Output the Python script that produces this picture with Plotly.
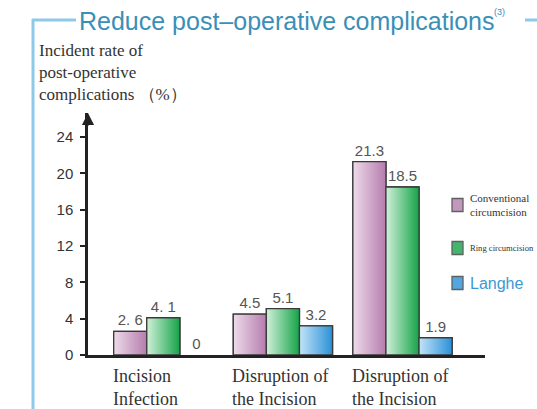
import plotly.graph_objects as go

# ---- data ----
categories = ["Incision<br>Infection", "Disruption of<br>the Incision", "Disruption of<br>the Incision"]
series_names = ["Conventional<br>circumcision", "Ring circumcision", "Langhe"]
conventional = [2.6, 4.5, 21.3]
ring = [4.1, 5.1, 18.5]
langhe = [0, 3.2, 1.9]
conventional_labels = ["2. 6", "4.5", "21.3"]
ring_labels = ["4. 1", "5.1", "18.5"]
langhe_labels = ["0", "3.2", "1.9"]
y_ticks = [0, 4, 8, 12, 16, 20, 24]

W, H = 537, 409
L, R, T, B = 88, 52, 113, 54
SERIF = "Liberation Serif"
SANS = "Liberation Sans"

gradients = [("#eedbea", "#b57cae"), ("#d2f0da", "#14a448"), ("#c2e4f8", "#2a90d8")]
solid = ["#d4a8ce", "#4dbd70", "#62b2e6"]
values = [conventional, ring, langhe]
labels = [conventional_labels, ring_labels, langhe_labels]
outline = "#3a3a3a"

bargap = 0.17
n_series = len(values)
bar_w = (1 - bargap) / n_series

xs = list(range(len(categories)))
fig = go.Figure()
# bars (carry the value labels)
for vals, labs, col in zip(values, labels, solid):
    fig.add_trace(go.Bar(
        x=xs, y=vals, text=labs, textposition="outside",
        textfont=dict(family=SANS, size=15, color="#555"),
        marker=dict(color=col, line=dict(color=outline, width=[0 if v == 0 else 1.3 for v in vals])),
        cliponaxis=False, showlegend=False, hoverinfo="skip",
    ))
# gradient skin over each bar, placed by the same grouping as the bars
for s, (vals, (c0, c1)) in enumerate(zip(values, gradients)):
    for i, v in enumerate(vals):
        if v == 0:
            continue
        left = i - (1 - bargap) / 2 + s * bar_w
        right = left + bar_w
        fig.add_trace(go.Scatter(
            x=[left, right, right, left, left], y=[0, 0, v, v, 0],
            mode="lines", fill="toself",
            fillgradient=dict(type="horizontal", colorscale=[[0, c0], [1, c1]]),
            line=dict(color=outline, width=1.3), showlegend=False, hoverinfo="skip",
        ))

def px_x(p):
    return (p - L) / (W - L - R)

def px_y(p):
    return (H - B - p) / (H - T - B)

line_col = "#8fc9ea"
shapes = [
    dict(type="line", xref="paper", yref="paper", x0=px_x(33), x1=px_x(33), y0=px_y(19), y1=px_y(409),
         line=dict(color=line_col, width=3)),
    dict(type="line", xref="paper", yref="paper", x0=px_x(32), x1=px_x(76), y0=px_y(20), y1=px_y(20),
         line=dict(color=line_col, width=3)),
    dict(type="line", xref="paper", yref="paper", x0=px_x(525), x1=px_x(540), y0=px_y(20), y1=px_y(20),
         line=dict(color=line_col, width=3)),
]

annotations = [
    dict(xref="paper", yref="paper", x=px_x(77), y=px_y(21), xanchor="left", yanchor="middle",
         text="Reduce post\u2013operative complications", showarrow=False,
         font=dict(family=SANS, size=25, color="#3a8fb7")),
    dict(xref="paper", yref="paper", x=px_x(492), y=px_y(12), xanchor="left", yanchor="middle",
         text="(3)", showarrow=False, font=dict(family=SANS, size=9, color="#3a8fb7")),
    dict(xref="paper", yref="paper", x=px_x(37), y=px_y(39), xanchor="left", yanchor="top", align="left",
         text="Incident rate of<br>post-operative<br>complications \uff08%\uff09", showarrow=False,
         font=dict(family=SERIF, size=17, color="#333")),
    dict(xref="paper", yref="paper", x=0, y=1.0, ax=0, ay=14, text="", showarrow=True,
         arrowhead=2, arrowsize=1.1, arrowwidth=2.2, arrowcolor="#222"),
]
for i, c in enumerate(categories):
    annotations.append(dict(xref="x", yref="paper", x=i - (1 - bargap) / 2, y=px_y(364), xanchor="left",
                            yanchor="top", align="left", text=c, showarrow=False, xshift=-3,
                            font=dict(family=SERIF, size=18, color="#333")))

# manual legend at the right edge
legend_y = [205, 248, 283]
legend_text = [
    dict(text="Conventional<br>circumcision", font=dict(family=SERIF, size=11, color="#333")),
    dict(text="Ring circumcision", font=dict(family=SERIF, size=8.6, color="#333")),
    dict(text="Langhe", font=dict(family=SANS, size=16, color="#3d97d6")),
]
for (c0, c1), ly, lt in zip(gradients, legend_y, legend_text):
    shapes.append(dict(type="rect", xref="paper", yref="paper", x0=px_x(452), x1=px_x(463),
                       y0=px_y(ly - 6.5), y1=px_y(ly + 6.5), fillcolor=c1, opacity=0.8,
                       line=dict(color=outline, width=1.3)))
    annotations.append(dict(xref="paper", yref="paper", x=px_x(468), y=px_y(ly), xanchor="left",
                            yanchor="middle", align="left", showarrow=False, **lt))

fig.update_layout(
    width=W, height=H, margin=dict(l=L, r=R, t=T, b=B),
    paper_bgcolor="white", plot_bgcolor="white",
    barmode="group", bargap=bargap, bargroupgap=0,
    showlegend=False,
    shapes=shapes, annotations=annotations,
    xaxis=dict(range=[-0.63, 2.69], showticklabels=False, ticks="", showline=True,
               linecolor="#222", linewidth=2.5, showgrid=False, zeroline=False, fixedrange=True),
    yaxis=dict(range=[0, 26.65], tickvals=y_ticks, ticks="outside", ticklen=5, tickwidth=1.5,
               tickcolor="#222", showline=True, linecolor="#222", linewidth=2.5, showgrid=False,
               zeroline=False, tickfont=dict(family=SANS, size=15, color="#333"), ticklabelstandoff=4),
)

fig.write_html("out.html")
